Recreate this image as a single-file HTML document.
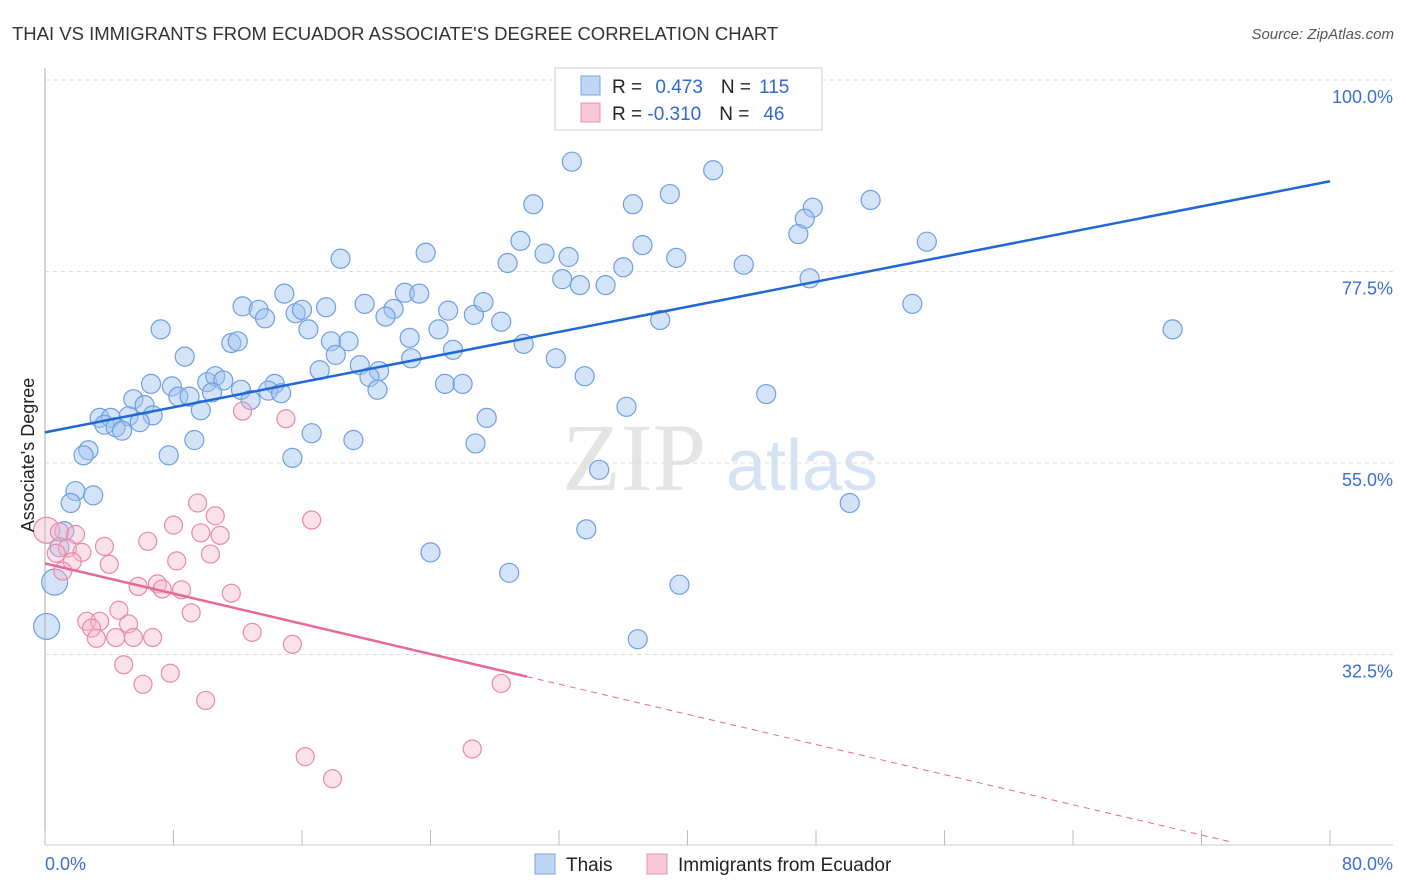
<!DOCTYPE html>
<html><head><meta charset="utf-8"><style>
body{margin:0;background:#fff;font-family:"Liberation Sans",sans-serif;}
#c{position:relative;width:1406px;height:892px;overflow:hidden}
</style></head><body>
<div id="c">
<svg id="s" width="1406" height="892" xmlns="http://www.w3.org/2000/svg">
<text x="12" y="40" font-size="18.5" fill="#333">THAI VS IMMIGRANTS FROM ECUADOR ASSOCIATE'S DEGREE CORRELATION CHART</text>
<text x="1394" y="39" font-size="15" fill="#555" text-anchor="end" font-style="italic">Source: ZipAtlas.com</text>
<text x="634" y="490" font-size="96" fill="#e4e4e4" font-family="Liberation Serif,serif" text-anchor="middle">ZIP</text>
<text x="802" y="490" font-size="72" fill="#d6e3f3" text-anchor="middle">atlas</text>
<g id="grid"></g><g id="pts"></g><g id="lines"></g>
<text transform="translate(34,455) rotate(-90)" font-size="18" fill="#222" text-anchor="middle">Associate's Degree</text>
<text x="45" y="870" font-size="18" fill="#3b6fd1">0.0%</text>
<text x="1393" y="870" font-size="18" fill="#3b6fd1" text-anchor="end">80.0%</text>
<g>
<rect x="555" y="68" width="267" height="62" fill="#fff" stroke="#ccc"/>
<rect x="581" y="76" width="19" height="19" fill="#c0d6f5" stroke="#7aa3e0"/>
<rect x="581" y="103" width="19" height="19" fill="#f8c8d6" stroke="#e895b0"/>
<text x="612" y="93" font-size="19" fill="#222">R = <tspan fill="#2f6ad0" dx="8">0.473</tspan><tspan dx="18" fill="#222">N =</tspan><tspan dx="8" fill="#2f6ad0">115</tspan></text>
<text x="612" y="120" font-size="19" fill="#222">R = <tspan fill="#2f6ad0">-0.310</tspan><tspan dx="18" fill="#222">N =</tspan><tspan dx="14" fill="#2f6ad0">46</tspan></text>
</g>
<g>
<rect x="535" y="854" width="20" height="20" fill="#c0d6f5" stroke="#7aa3e0"/>
<text x="566" y="871" font-size="19" fill="#222">Thais</text>
<rect x="647" y="854" width="20" height="20" fill="#f8c8d6" stroke="#e895b0"/>
<text x="678" y="871" font-size="19" fill="#222">Immigrants from Ecuador</text>
</g>
</svg>
</div>
<script>
const yTicks=[100,77.5,55,32.5];
const yTickLabels=["100.0%","77.5%","55.0%","32.5%"];
const xTicks=[0,8,16,24,32,40,48,56,64,72,80];
const thaiX=[32.8,41.6,30.4,36.6,38.9,51.4,47.8,47.3,46.9,54.9,29.6,37.2,31.1,32.6,39.3,28.8,18.4,23.7,43.5,36.0,32.2,33.3,34.9,47.6,14.9,22.4,23.3,12.3,13.3,13.7,15.6,16.0,17.5,19.9,21.7,21.2,25.1,26.7,27.3,28.4,54.0,38.3,70.2,7.2,16.4,24.5,11.6,12.0,17.8,18.9,22.7,29.8,8.7,18.1,25.4,31.8,17.1,19.6,20.8,22.8,20.2,33.6,6.6,7.9,10.1,10.6,11.1,14.3,24.9,26.0,8.3,9.0,10.4,12.2,13.9,14.7,20.7,44.9,5.5,6.2,9.7,12.8,6.7,5.2,3.4,4.1,5.9,3.7,4.4,4.8,36.2,27.5,9.3,16.6,19.2,26.8,2.7,2.4,7.7,15.4,34.5,1.9,3.0,1.6,50.1,1.2,33.7,0.9,24.0,28.9,39.5,0.6,36.9,0.1];
const thaiY=[90.4,89.4,85.4,85.4,86.6,85.9,85.0,83.7,81.9,81.0,81.1,80.6,79.6,79.2,79.1,78.5,79.0,79.7,78.3,78.0,76.6,75.9,75.9,76.7,74.9,75.0,74.9,73.4,73.0,72.0,72.6,73.0,73.3,73.7,73.1,72.2,72.9,72.4,73.9,71.6,73.7,71.8,70.7,70.7,70.7,70.7,69.1,69.3,69.3,69.3,69.7,69.0,67.5,67.7,68.3,67.3,65.9,66.5,65.8,67.3,65.1,65.2,64.3,64.0,64.5,65.2,64.7,64.3,64.3,64.3,62.8,62.8,63.3,63.6,63.5,63.2,63.6,63.1,62.5,61.8,61.2,62.4,60.6,60.5,60.3,60.3,59.8,59.5,59.2,58.8,61.6,60.3,57.7,58.5,57.7,57.3,56.5,55.9,55.9,55.6,54.2,51.7,51.2,50.3,50.3,47.0,47.2,45.1,44.5,42.1,40.7,41.0,34.3,35.8];
const ecuX=[12.3,15.0,0.1,0.9,1.9,1.4,2.3,0.7,9.5,10.6,16.6,8.0,9.7,10.9,6.4,3.7,10.3,8.2,1.7,4.0,1.1,7.0,7.3,8.5,5.8,11.6,9.1,4.6,2.6,3.4,5.2,2.9,3.2,4.4,5.5,6.7,12.9,15.4,4.9,7.8,6.1,10.0,28.4,26.6,16.2,17.9];
const ecuY=[61.1,60.2,47.1,46.9,46.6,45.0,44.5,44.4,50.3,48.8,48.3,47.7,46.8,46.5,45.8,45.2,44.3,43.5,43.4,43.1,42.3,40.8,40.2,40.1,40.5,39.7,37.4,37.7,36.4,36.4,36.1,35.6,34.4,34.5,34.5,34.5,35.1,33.7,31.3,30.3,29.0,27.1,29.1,21.4,20.5,17.9];
const thaiTrend=[[0,58.6],[80,88.1]];
const ecuTrend=[[0,43.2],[30.0,29.9]];
const ecuTrendExt=[[30.0,29.9],[73.8,10.5]];
const X=v=>45+v*1285/80, Y=v=>80+(100-v)*191.5/22.5;
const NS="http://www.w3.org/2000/svg";
function mk(t,a,p){const e=document.createElementNS(NS,t);for(const k in a)e.setAttribute(k,a[k]);p.appendChild(e);return e;}
const g=document.getElementById('grid');
const ax=mk('line',{x1:45,y1:68,x2:45,y2:845,stroke:'#aaa'},g);


const xa=mk('line',{x1:45,y1:845,x2:1393,y2:845,stroke:'#ccc'},g);


yTicks.forEach((v,i)=>{
 const l=mk('line',{x1:45,y1:Y(v),x2:1393,y2:Y(v),stroke:'#ddd','stroke-dasharray':'4,4'},g);
 
 
 const t=mk('text',{x:1393,y:Y(v)+23,'font-size':18,fill:'#3b6fd1','text-anchor':'end'},g);
 t.textContent=yTickLabels[i];
 
 
});
xTicks.forEach(v=>{
 const l=mk('line',{x1:X(v),y1:830,x2:X(v),y2:845,stroke:'#bbb'},g);
 
 
});
const p=document.getElementById('pts');
thaiX.forEach((v,i)=>{
 const r=(v<1.5&&thaiY[i]<42)?13:9.5;
 const c=mk('circle',{cx:X(v),cy:Y(thaiY[i]),r:r,fill:'rgba(160,195,240,0.45)',stroke:'#6f9fe0','stroke-width':1.2},p);
 
 
});
ecuX.forEach((v,i)=>{
 const r=(i==2)?13:9;
 const c=mk('circle',{cx:X(v),cy:Y(ecuY[i]),r:r,fill:'rgba(245,180,200,0.4)',stroke:'#e88aa8','stroke-width':1.2},p);
 
 
});
const L=document.getElementById('lines');
const t1=mk('line',{x1:X(thaiTrend[0][0]),y1:Y(thaiTrend[0][1]),x2:X(thaiTrend[1][0]),y2:Y(thaiTrend[1][1]),stroke:'#1f68d6','stroke-width':2.5},L);


const t2=mk('line',{x1:X(ecuTrend[0][0]),y1:Y(ecuTrend[0][1]),x2:X(ecuTrend[1][0]),y2:Y(ecuTrend[1][1]),stroke:'#e8689a','stroke-width':2.5},L);


const t3=mk('line',{x1:X(ecuTrendExt[0][0]),y1:Y(ecuTrendExt[0][1]),x2:X(ecuTrendExt[1][0]),y2:Y(ecuTrendExt[1][1]),stroke:'#e8689a','stroke-width':1,'stroke-dasharray':'6,5'},L);


</script>
</body></html>
